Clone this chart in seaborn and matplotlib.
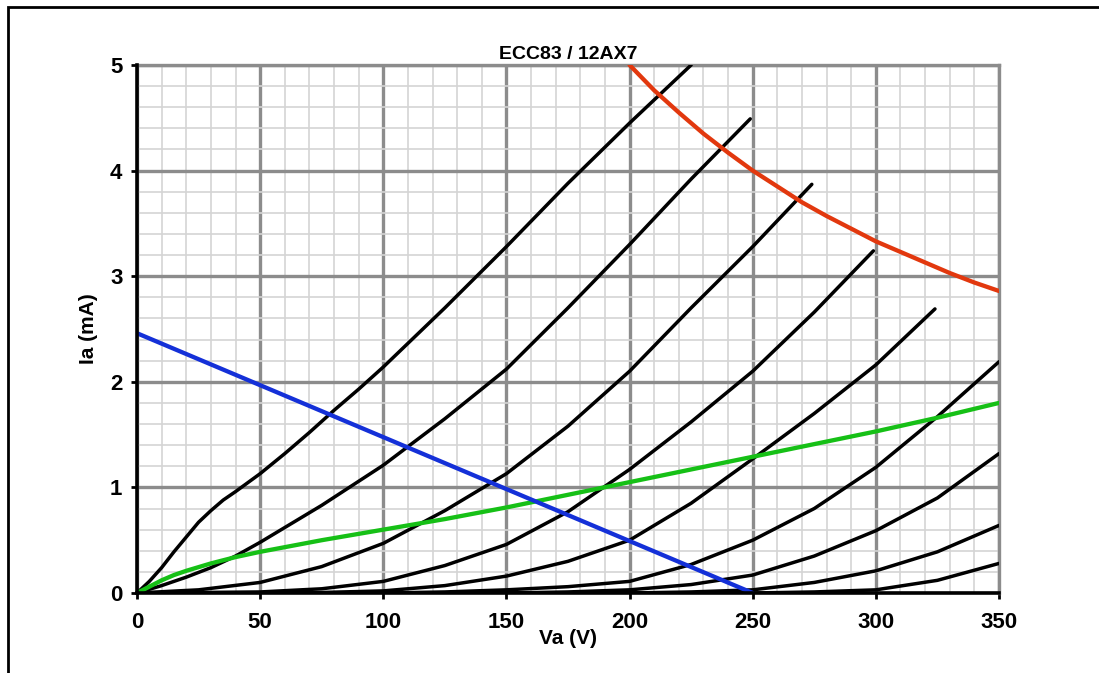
import matplotlib
matplotlib.use('Agg')
import matplotlib.pyplot as plt
import seaborn as sns
from matplotlib.patches import Rectangle
from matplotlib.ticker import MultipleLocator

# anode curves, one per grid voltage (0 V down to -4 V in 0.5 V steps)
va_g0 = [0, 5, 10, 15, 20, 25, 30, 35, 40, 50, 60, 70, 80, 90, 100, 125, 150, 175, 200, 225]
ia_g0 = [0, 0.11, 0.24, 0.39, 0.53, 0.67, 0.78, 0.88, 0.96, 1.13, 1.32, 1.52, 1.73, 1.93, 2.14, 2.70, 3.28, 3.88, 4.45, 5.0]

va_g05 = [0, 10, 20, 30, 40, 50, 75, 100, 125, 150, 175, 200, 225, 249]
ia_g05 = [0, 0.07, 0.15, 0.24, 0.35, 0.48, 0.83, 1.21, 1.65, 2.12, 2.70, 3.30, 3.92, 4.49]

va_g1 = [0, 25, 50, 75, 100, 125, 150, 175, 200, 225, 250, 274]
ia_g1 = [0, 0.03, 0.10, 0.25, 0.47, 0.78, 1.13, 1.58, 2.10, 2.70, 3.28, 3.87]

va_g15 = [0, 50, 75, 100, 125, 150, 175, 200, 225, 250, 275, 299]
ia_g15 = [0, 0.01, 0.04, 0.11, 0.26, 0.46, 0.77, 1.17, 1.62, 2.10, 2.66, 3.24]

va_g2 = [0, 50, 75, 100, 125, 150, 175, 200, 225, 250, 275, 300, 324]
ia_g2 = [0, 0, 0.005, 0.02, 0.07, 0.16, 0.30, 0.50, 0.85, 1.27, 1.70, 2.16, 2.69]

va_g25 = [0, 100, 125, 150, 175, 200, 225, 250, 275, 300, 325, 350]
ia_g25 = [0, 0, 0.01, 0.03, 0.06, 0.11, 0.27, 0.50, 0.80, 1.19, 1.67, 2.19]

va_g3 = [0, 150, 175, 200, 225, 250, 275, 300, 325, 350]
ia_g3 = [0, 0, 0.01, 0.03, 0.08, 0.17, 0.35, 0.59, 0.90, 1.32]

va_g35 = [0, 200, 225, 250, 275, 300, 325, 350]
ia_g35 = [0, 0, 0.01, 0.03, 0.10, 0.21, 0.39, 0.64]

va_g4 = [0, 250, 275, 300, 325, 350]
ia_g4 = [0, 0, 0.01, 0.03, 0.12, 0.28]

# max dissipation curve
va_pmax = [200, 210, 220, 230, 240, 250, 260, 270, 280, 290, 300, 310, 320, 330, 340, 350]
ia_pmax = [5.0, 4.76, 4.55, 4.35, 4.17, 4.0, 3.85, 3.70, 3.57, 3.45, 3.33, 3.23, 3.13, 3.03, 2.94, 2.86]

# load line
va_load = [0, 250]
ia_load = [2.46, 0]

# bias line
va_bias = [0, 5, 10, 15, 20, 30, 40, 50, 75, 100, 125, 150, 175, 200, 225, 250, 275, 300, 325, 350]
ia_bias = [0, 0.06, 0.12, 0.17, 0.21, 0.28, 0.34, 0.39, 0.50, 0.60, 0.70, 0.81, 0.93, 1.05, 1.17, 1.29, 1.41, 1.53, 1.66, 1.80]

curves = [(va_g0, ia_g0), (va_g05, ia_g05), (va_g1, ia_g1), (va_g15, ia_g15),
          (va_g2, ia_g2), (va_g25, ia_g25), (va_g3, ia_g3), (va_g35, ia_g35),
          (va_g4, ia_g4)]

sns.set_theme(style="whitegrid")
plt.rcParams['font.family'] = ['Liberation Sans', 'DejaVu Sans']
plt.rcParams['font.weight'] = 'bold'

fig = plt.figure(figsize=(10.99, 6.73), dpi=100)
fig.patch.set_facecolor('white')
ax = fig.add_axes([137 / 1099, 80 / 673, 862 / 1099, 528 / 673])
ax.set_facecolor('white')

for va, ia in curves:
    sns.lineplot(x=va, y=ia, color='black', linewidth=2.5, ax=ax, sort=False, zorder=3)

sns.lineplot(x=va_pmax, y=ia_pmax, color='#e2380e', linewidth=3.1, ax=ax, sort=False, zorder=4)
sns.lineplot(x=va_bias, y=ia_bias, color='#16c016', linewidth=3.1, ax=ax, sort=False, zorder=5)
sns.lineplot(x=va_load, y=ia_load, color='#1430d8', linewidth=3.1, ax=ax, sort=False, zorder=6)

ax.set_xlim(0, 350)
ax.set_ylim(0, 5)
ax.xaxis.set_major_locator(MultipleLocator(50))
ax.xaxis.set_minor_locator(MultipleLocator(10))
ax.yaxis.set_major_locator(MultipleLocator(1))
ax.yaxis.set_minor_locator(MultipleLocator(0.2))

ax.grid(which='minor', color='#d4d4d4', linewidth=1.2, zorder=0)
ax.grid(which='major', color='#8c8c8c', linewidth=2.4, zorder=1)
ax.set_axisbelow(True)

for side in ['top', 'right']:
    ax.spines[side].set_color('#8c8c8c')
    ax.spines[side].set_linewidth(2.4)
for side in ['left', 'bottom']:
    ax.spines[side].set_color('black')
    ax.spines[side].set_linewidth(2.6)
    ax.spines[side].set_zorder(7)

ax.tick_params(axis='both', which='major', direction='out', length=4.5, width=2,
               color='black', labelsize=16, labelcolor='black')
ax.tick_params(axis='x', which='major', pad=9, bottom=True)
ax.tick_params(axis='y', which='major', pad=6, left=True)
ax.tick_params(which='minor', length=0)
for lbl in ax.get_xticklabels() + ax.get_yticklabels():
    lbl.set_fontweight('bold')

ax.set_title('ECC83 / 12AX7', fontsize=14, fontweight='bold', color='black', pad=4)
ax.set_xlabel('Va (V)', fontsize=15, fontweight='bold', color='black', labelpad=-3)
ax.set_ylabel('Ia (mA)', fontsize=15, fontweight='bold', color='black', labelpad=9)

# outer chart frame (cropped on the right and bottom)
fig.patches.append(Rectangle((8 / 1099, -0.1), 1.2, 1.1 - 7 / 673, transform=fig.transFigure,
                             fill=False, edgecolor='black', linewidth=2, zorder=10))

fig.savefig('out.png', dpi=100, facecolor='white')
